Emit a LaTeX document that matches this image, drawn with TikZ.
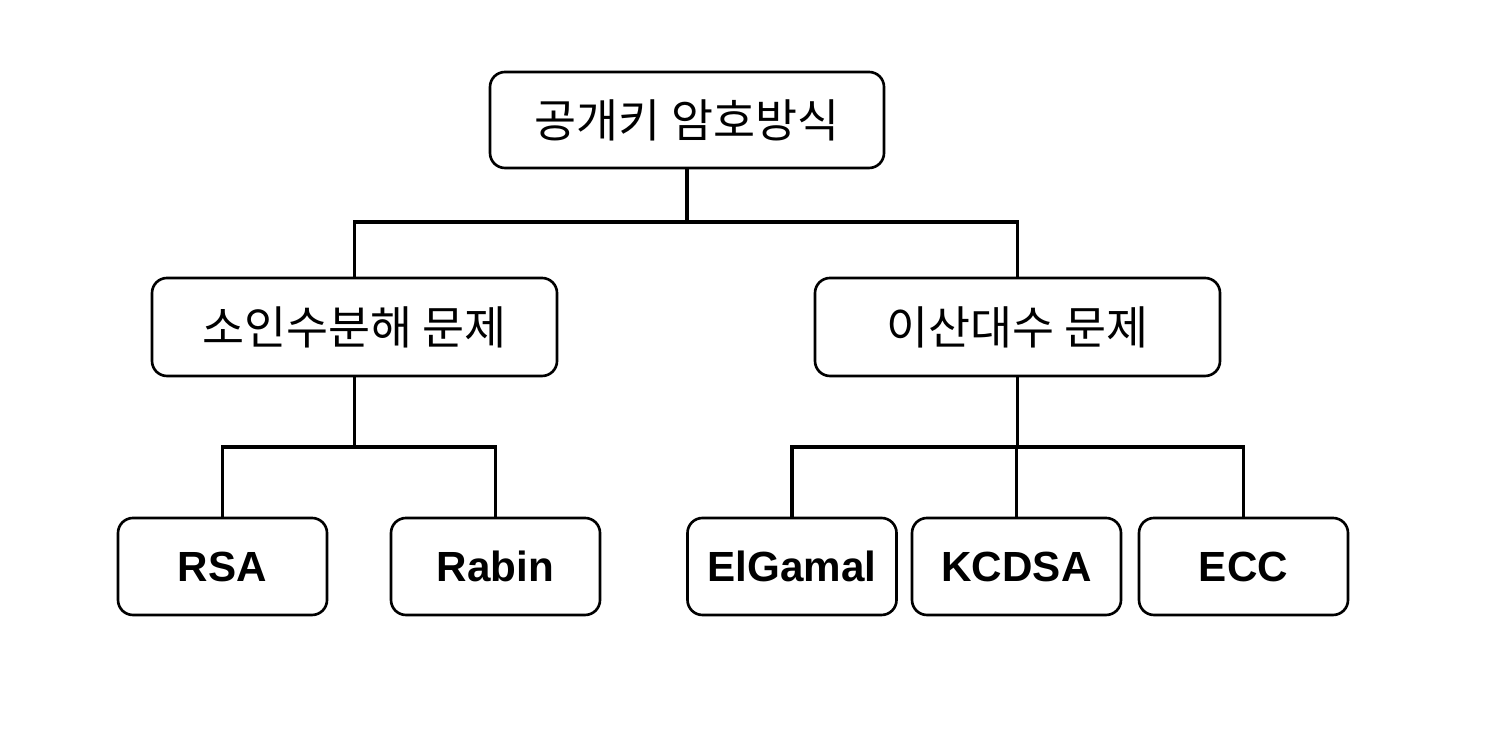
\documentclass[tikz,border=0pt]{standalone}
\usepackage{fontspec}
\setmainfont{Liberation Sans}
\newfontfamily\krfont{Noto Sans CJK KR}

\begin{document}
\begin{tikzpicture}[
	 box/.style = {draw, line width = 1.5pt, rounded corners = 0.3 cm, align = center},
	 topbox/.style = {box, minimum width = 7.88 cm, minimum height = 1.92 cm, font = \krfont\fontsize{26}{30}\selectfont},
	 midbox/.style = {box, minimum width = 8.1 cm, minimum height = 1.96 cm, font = \krfont\fontsize{26}{30}\selectfont},
	 algbox/.style = {box, minimum width = 4.18 cm, minimum height = 1.94 cm, font = \bfseries\fontsize{24}{28}\selectfont},
	 link/.style = {line width = 1.8pt}
	 ]
	 \useasboundingbox (0, 0) rectangle (29.8, 14.76);
	 
	 \node[topbox] (pk) at (13.74, 12.36) {공개키 암호방식};
	 
	 \node[midbox] (fact) at (7.09, 8.22) {소인수분해 문제};
	 \node[midbox] (dlog) at (20.35, 8.22) {이산대수 문제};
	 
	 \node[algbox] (rsa) at (4.45, 3.43) {RSA};
	 \node[algbox] (rabin) at (9.91, 3.43) {Rabin};
	 \node[algbox] (elgamal) at (15.84, 3.43) {ElGamal};
	 \node[algbox] (kcdsa) at (20.33, 3.43) {KCDSA};
	 \node[algbox] (ecc) at (24.87, 3.43) {ECC};
	 
	 \coordinate (jtop) at (13.74, 10.32);
	 \coordinate (jfact) at (7.09, 5.82);
	 \coordinate (jdlog) at (20.35, 5.82);
	 
	 \draw[link] (pk.south) -- (jtop);
	 \draw[link] (fact.north) |- (jtop) -| (dlog.north);
	 
	 \draw[link] (fact.south) -- (jfact);
	 \draw[link] (rsa.north) |- (jfact) -| (rabin.north);
	 
	 \draw[link] (dlog.south) -- (jdlog);
	 \draw[link] (elgamal.north) |- (jdlog) -| (ecc.north);
	 \draw[link] (kcdsa.north) -- (kcdsa.north |- jdlog);
\end{tikzpicture}
\end{document}
